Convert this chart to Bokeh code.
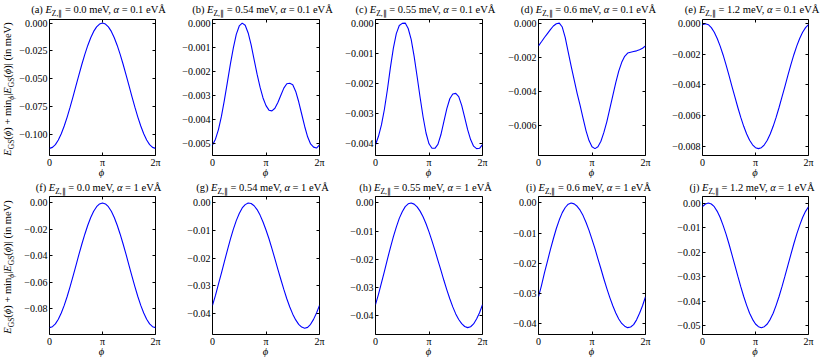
import numpy as np
from bokeh.plotting import figure
from bokeh.layouts import row, column
from bokeh.models import FixedTicker, LinearAxis, CustomJSTickFormatter, Range1d, Div
from bokeh.embed import file_html
from bokeh.resources import INLINE

# ---------------- data ----------------
phi_deg = list(range(0, 361, 10))

panel_tags = ["(a)", "(b)", "(c)", "(d)", "(e)", "(f)", "(g)", "(h)", "(i)", "(j)"]
ez_labels = ["0.0", "0.54", "0.55", "0.6", "1.2", "0.0", "0.54", "0.55", "0.6", "1.2"]
alpha_labels = ["0.1", "0.1", "0.1", "0.1", "0.1", "1", "1", "1", "1", "1"]

E_a = [-0.1126, -0.1117, -0.1092, -0.1051, -0.0994, -0.0925, -0.0845, -0.0756, -0.0661,
       -0.0563, -0.0465, -0.0370, -0.0282, -0.0201, -0.0132, -0.0075, -0.0034, -0.0009,
       0.0, -0.0009, -0.0034, -0.0075, -0.0132, -0.0201, -0.0282, -0.0370, -0.0465,
       -0.0563, -0.0661, -0.0756, -0.0845, -0.0925, -0.0994, -0.1051, -0.1092, -0.1117, -0.1126]
E_b = [-0.00508, -0.00484, -0.00444, -0.00389, -0.00321, -0.00247, -0.00172, -0.00104,
       -0.00047, -0.00012, 0.0, -0.00009, -0.00041, -0.00091, -0.00152, -0.00213, -0.00267,
       -0.00312, -0.00344, -0.00363, -0.00366, -0.00355, -0.00331, -0.00301, -0.00271,
       -0.00253, -0.00251, -0.00257, -0.00285, -0.00328, -0.00379, -0.00430, -0.00474,
       -0.00504, -0.00517, -0.00521, -0.00508]
E_c = [-0.00405, -0.00377, -0.00339, -0.00287, -0.00222, -0.00149, -0.00084, -0.00035,
       -0.00008, -0.00001, 0.0, -0.00018, -0.00054, -0.00111, -0.00178, -0.00247, -0.00312,
       -0.00366, -0.00402, -0.00417, -0.00417, -0.00404, -0.00372, -0.00328, -0.00285,
       -0.00252, -0.00236, -0.00234, -0.00245, -0.00274, -0.00314, -0.00355, -0.00388,
       -0.00410, -0.00418, -0.00417, -0.00405]
E_d = [-0.00133, -0.00109, -0.00084, -0.00061, -0.00038, -0.00017, -0.00004, 0.0,
       -0.00023, -0.00085, -0.00170, -0.00253, -0.00331, -0.00410, -0.00480, -0.00556,
       -0.00629, -0.00686, -0.00722, -0.00733, -0.00722, -0.00690, -0.00638, -0.00575,
       -0.00499, -0.00423, -0.00347, -0.00280, -0.00229, -0.00194, -0.00175, -0.00170,
       -0.00166, -0.00162, -0.00156, -0.00147, -0.00133]
E_e = [-0.00006, 0.0, -0.00006, -0.00025, -0.00055, -0.00096, -0.00146, -0.00204, -0.00269,
       -0.00338, -0.00409, -0.00479, -0.00548, -0.00613, -0.00671, -0.00721, -0.00762,
       -0.00792, -0.00811, -0.00817, -0.00811, -0.00792, -0.00762, -0.00721, -0.00671,
       -0.00613, -0.00548, -0.00479, -0.00409, -0.00338, -0.00269, -0.00204, -0.00146,
       -0.00096, -0.00055, -0.00025, -0.00006]
E_f = [-0.0942, -0.0935, -0.0914, -0.0879, -0.0832, -0.0774, -0.0707, -0.0632, -0.0553,
       -0.0471, -0.0389, -0.0310, -0.0236, -0.0168, -0.0110, -0.0063, -0.0028, -0.0007,
       0.0, -0.0007, -0.0028, -0.0063, -0.0110, -0.0168, -0.0236, -0.0310, -0.0389,
       -0.0471, -0.0553, -0.0632, -0.0707, -0.0774, -0.0832, -0.0879, -0.0914, -0.0935, -0.0942]
E_g = [-0.0372, -0.0336, -0.0295, -0.0255, -0.0213, -0.0172, -0.0132, -0.0096, -0.0064,
       -0.0038, -0.0018, -0.0006, 0.0, -0.0002, -0.0010, -0.0024, -0.0044, -0.0069,
       -0.0098, -0.0130, -0.0166, -0.0203, -0.0241, -0.0278, -0.0314, -0.0348, -0.0378,
       -0.0404, -0.0425, -0.0441, -0.0451, -0.0455, -0.0452, -0.0441, -0.0423, -0.0400, -0.0372]
E_h = [-0.0363, -0.0326, -0.0285, -0.0244, -0.0201, -0.0160, -0.0121, -0.0086, -0.0055,
       -0.0031, -0.0013, -0.0003, 0.0, -0.0004, -0.0014, -0.0029, -0.0049, -0.0074,
       -0.0103, -0.0135, -0.0169, -0.0205, -0.0240, -0.0276, -0.0310, -0.0342, -0.0371,
       -0.0396, -0.0416, -0.0431, -0.0441, -0.0445, -0.0442, -0.0432, -0.0414, -0.0392, -0.0363]
E_i = [-0.0312, -0.0275, -0.0233, -0.0194, -0.0155, -0.0119, -0.0085, -0.0056, -0.0032,
       -0.0015, -0.0004, 0.0, -0.0003, -0.0011, -0.0024, -0.0042, -0.0065, -0.0091,
       -0.0121, -0.0152, -0.0186, -0.0219, -0.0253, -0.0285, -0.0315, -0.0342, -0.0366,
       -0.0386, -0.0401, -0.0410, -0.0415, -0.0413, -0.0405, -0.0389, -0.0367, -0.0342, -0.0312]
E_j = [-0.0015, -0.0004, 0.0, -0.0004, -0.0015, -0.0034, -0.0059, -0.0091, -0.0127,
       -0.0167, -0.0210, -0.0254, -0.0298, -0.0341, -0.0381, -0.0417, -0.0449, -0.0474,
       -0.0493, -0.0504, -0.0508, -0.0504, -0.0493, -0.0474, -0.0449, -0.0417, -0.0381,
       -0.0341, -0.0298, -0.0254, -0.0210, -0.0167, -0.0127, -0.0091, -0.0059, -0.0034, -0.0015]
curves = [E_a, E_b, E_c, E_d, E_e, E_f, E_g, E_h, E_i, E_j]

M = "\u2212"
yticks_a = [0.0, -0.025, -0.05, -0.075, -0.1]
ylabels_a = ["0.000", M + "0.025", M + "0.050", M + "0.075", M + "0.100"]
yticks_b = [0.0, -0.001, -0.002, -0.003, -0.004, -0.005]
ylabels_b = ["0.000", M + "0.001", M + "0.002", M + "0.003", M + "0.004", M + "0.005"]
yticks_c = [0.0, -0.001, -0.002, -0.003, -0.004]
ylabels_c = ["0.000", M + "0.001", M + "0.002", M + "0.003", M + "0.004"]
yticks_d = [0.0, -0.002, -0.004, -0.006]
ylabels_d = ["0.000", M + "0.002", M + "0.004", M + "0.006"]
yticks_e = [0.0, -0.002, -0.004, -0.006, -0.008]
ylabels_e = ["0.000", M + "0.002", M + "0.004", M + "0.006", M + "0.008"]
yticks_f = [0.0, -0.02, -0.04, -0.06, -0.08]
ylabels_f = ["0.00", M + "0.02", M + "0.04", M + "0.06", M + "0.08"]
yticks_g = [0.0, -0.01, -0.02, -0.03, -0.04]
ylabels_g = ["0.00", M + "0.01", M + "0.02", M + "0.03", M + "0.04"]
yticks_j = [0.0, -0.01, -0.02, -0.03, -0.04, -0.05]
ylabels_j = ["0.00", M + "0.01", M + "0.02", M + "0.03", M + "0.04", M + "0.05"]
yticks_all = [yticks_a, yticks_b, yticks_c, yticks_d, yticks_e,
              yticks_f, yticks_g, yticks_g, yticks_g, yticks_j]
ylabels_all = [ylabels_a, ylabels_b, ylabels_c, ylabels_d, ylabels_e,
               ylabels_f, ylabels_g, ylabels_g, ylabels_g, ylabels_j]

ylims = [(-0.1190, 0.0032), (-0.00552, 0.00015), (-0.00441, 0.00012), (-0.00773, 0.00021),
         (-0.00862, 0.00028), (-0.0994, 0.0049), (-0.0478, 0.00236), (-0.04696, 0.00232),
         (-0.04378, 0.00216), (-0.05357, 0.00265)]

xtick_vals = [0.0, np.pi, 2 * np.pi]
xtick_labels = ["0", "\u03c0", "2\u03c0"]
x_label = "\u03d5"

# ---------------- layout / style ----------------
FONT = "Liberation Serif"
YDIV_W = 16
col_w = [156, 163, 163, 164, 168]
col_bl = [32, 40, 40, 40, 40]
col_br = [17, 16, 16, 17, 22]
# vertical stack per column: top div, fig row 1, mid div, fig row 2, bottom div
top_h, f1_h, mid_h, f2_h, bot_h = 15, 155, 26, 153, 14
f1_bt, f2_bt, f_bb = 4, 0, 12
TS, SS, PS = 10.5, 7.5, 10.5

FF = "font-family:'Liberation Serif',serif;color:#000;white-space:nowrap;"
SUB = f"font-size:{SS}px;vertical-align:-2.5px;line-height:0;"


def line_block(html, baseline, dx, fs, style=""):
    top = baseline - 0.8375 * fs
    return (f'<div style="position:absolute;left:0;top:{top:.2f}px;width:100%;text-align:center;'
            f'transform:translateX({dx}px);{FF}font-size:{fs}px;line-height:{fs}px;{style}">'
            f'{html}</div>')


def container(inner, w, h):
    return (f'<div style="position:relative;width:{w}px;height:{h}px;margin:0;padding:0">'
            f'{inner}</div>')


def title_text(k):
    return (f'{panel_tags[k]} <i>E</i><span style="{SUB}">Z,\u2225</span> = {ez_labels[k]} meV, '
            f'<i>\u03b1</i> = {alpha_labels[k]} eV\u00c5')


def ylabel_block(yc):
    html = (f'<i>E</i><span style="{SUB}">GS</span>(<i>\u03d5</i>) + min'
            f'<span style="{SUB}"><i>\u03d5</i></span>|<i>E</i><span style="{SUB}">GS</span>'
            f'(<i>\u03d5</i>)| (in meV)')
    return (f'<div style="position:absolute;left:3.2px;top:{yc}px;width:max-content;{FF}'
            f'font-size:{TS}px;line-height:{TS}px;transform-origin:0 0;'
            f'transform:rotate(-90deg) translateX(-50%)">{html}</div>')


def blank_axis(ticks):
    return LinearAxis(ticker=FixedTicker(ticks=ticks),
                      formatter=CustomJSTickFormatter(code="return ''"),
                      major_tick_in=3, major_tick_out=0, major_tick_line_color="black",
                      minor_tick_line_color=None, axis_line_color=None,
                      major_label_standoff=0, major_label_text_font_size="0px")


def make_fig(k, c, h, bt):
    lo, hi = ylims[k]
    p = figure(width=col_w[c], height=h, x_range=Range1d(0, 2 * np.pi),
               y_range=Range1d(lo, hi), output_backend="svg", toolbar_location=None,
               tools="", title_location=None, margin=0,
               min_border_left=col_bl[c], min_border_right=col_br[c],
               min_border_top=bt, min_border_bottom=f_bb)
    p.grid.visible = False
    p.outline_line_color = "black"
    p.outline_line_width = 1
    p.background_fill_color = "white"
    p.border_fill_color = None

    x = np.deg2rad(phi_deg)
    p.line(x, curves[k], line_color="blue", line_width=1.1)

    xa = p.xaxis[0]
    xa.ticker = FixedTicker(ticks=xtick_vals)
    xa.major_label_overrides = dict(zip(xtick_vals, xtick_labels))
    ya = p.yaxis[0]
    ya.ticker = FixedTicker(ticks=yticks_all[k])
    ya.major_label_overrides = dict(zip(yticks_all[k], ylabels_all[k]))
    for ax in (xa, ya):
        ax.axis_line_color = None
        ax.major_tick_in = 3
        ax.major_tick_out = 0
        ax.major_tick_line_color = "black"
        ax.minor_tick_line_color = None
        ax.major_label_text_font = FONT
        ax.major_label_text_font_size = "10px"
        ax.major_label_text_color = "black"
    xa.major_label_standoff = 1
    ya.major_label_standoff = 2
    p.add_layout(blank_axis(yticks_all[k]), "right")
    p.add_layout(blank_axis(xtick_vals), "above")
    return p


cols = []
# y-axis label column (one label per row, centred on the frames)
ylab_html = container(ylabel_block(88.5) + ylabel_block(266.5), YDIV_W, 363)
cols.append(Div(text=ylab_html, width=YDIV_W, height=363, margin=0))

for c in range(5):
    w = col_w[c]
    dxf = (col_bl[c] - col_br[c]) / 2
    phi_html = f'<i>{x_label}</i>'
    top = Div(text=container(line_block(title_text(c), 14, dxf - 3, TS), w, top_h),
              width=w, height=top_h, margin=0)
    f1 = make_fig(c, c, f1_h, f1_bt)
    mid = Div(text=container(line_block(phi_html, 7, dxf, PS) +
                             line_block(title_text(c + 5), 21.5, dxf - 3, TS), w, mid_h),
              width=w, height=mid_h, margin=0)
    f2 = make_fig(c + 5, c, f2_h, f2_bt)
    bot = Div(text=container(line_block(phi_html, 7, dxf, PS), w, bot_h),
              width=w, height=bot_h, margin=0)
    cols.append(column(top, f1, mid, f2, bot, spacing=0, margin=0))

layout = row(*cols, spacing=0, margin=0)
open("out.html", "w").write(file_html(layout, INLINE))
